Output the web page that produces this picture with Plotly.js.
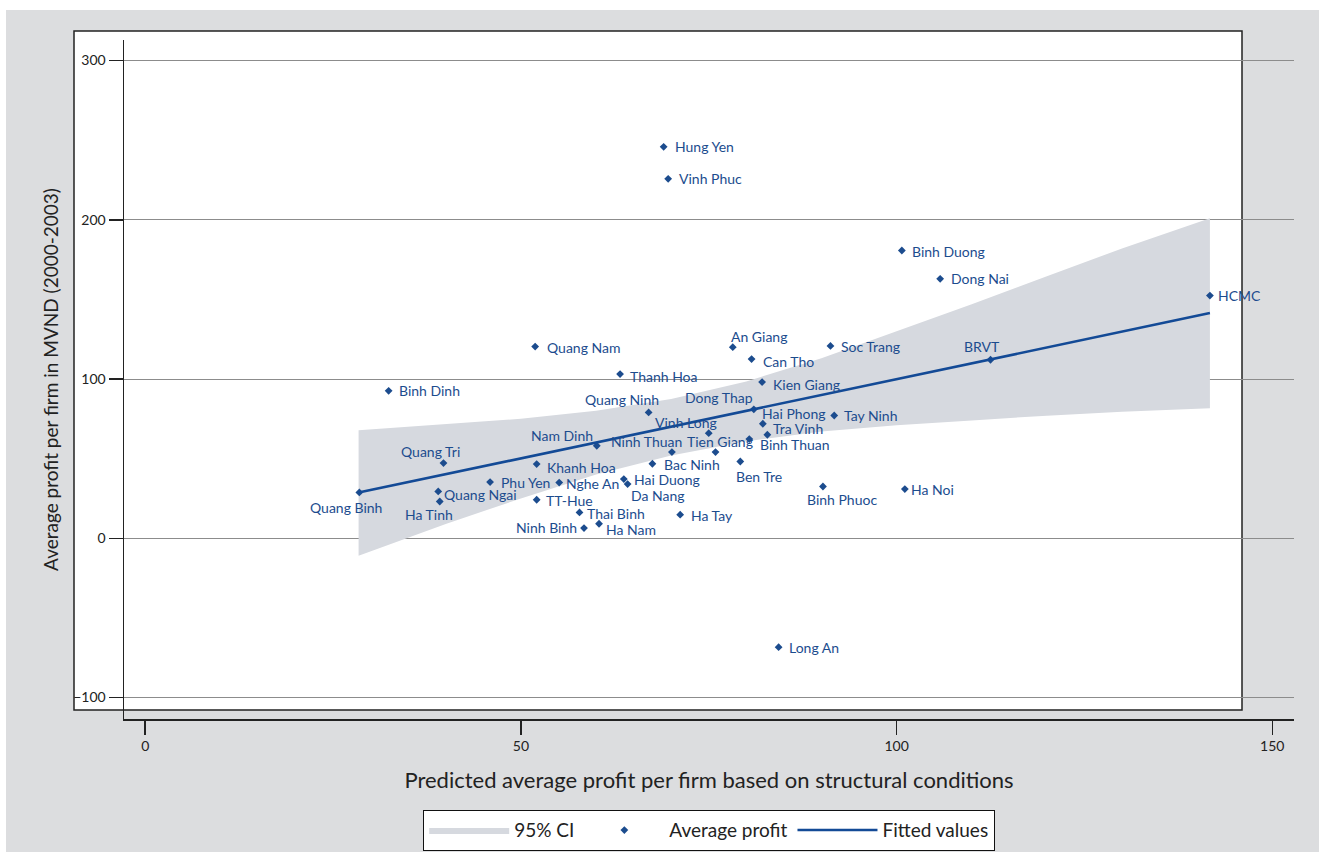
<!DOCTYPE html>
<html>
<head>
<meta charset="utf-8">
<script src="https://cdn.plot.ly/plotly-3.0.1.min.js"></script>
<style>html,body{margin:0;padding:0;background:#fff;}#chart{width:1319px;height:852px;}</style>
</head>
<body>
<div id="chart"></div>
<script>
// ---- data ----
const provinces = ["Hung Yen","Vinh Phuc","Binh Duong","Dong Nai","HCMC","BRVT","An Giang","Soc Trang","Can Tho","Quang Nam",
  "Thanh Hoa","Binh Dinh","Kien Giang","Quang Ninh","Dong Thap","Hai Phong","Tay Ninh","Tra Vinh","Binh Thuan","Tien Giang",
  "Vinh Long","Ninh Thuan","Nam Dinh","Quang Tri","Khanh Hoa","Bac Ninh","Ben Tre","Hai Duong","Da Nang","Phu Yen",
  "Nghe An","Quang Ngai","Ha Tinh","Quang Binh","TT-Hue","Thai Binh","Ninh Binh","Ha Nam","Ha Tay","Binh Phuoc",
  "Ha Noi","Long An"];
const predictedProfit = [69.0,69.6,100.7,105.8,141.7,112.5,78.2,91.2,80.7,51.9,
  63.2,32.4,82.1,67.0,81.0,82.2,91.7,82.8,80.4,75.9,
  75.0,70.1,60.1,39.7,52.1,67.5,79.2,63.7,64.2,45.9,
  55.1,39.0,39.2,28.5,52.1,57.8,58.4,60.4,71.2,90.2,
  101.1,84.3];
const averageProfit = [245.8,225.7,180.7,162.9,152.4,112.1,120.0,120.8,112.5,120.4,
  103.1,92.6,98.1,79.0,81.0,71.9,77.1,65.0,62.3,54.1,
  66.0,54.1,58.1,47.2,46.6,46.8,48.2,37.2,34.0,35.3,
  35.0,29.4,23.1,28.8,24.2,16.2,6.4,9.1,14.8,32.5,
  30.9,-68.4];
const ciX     = [28.4, 40, 50, 60, 70, 80, 90, 100, 110, 120, 130, 141.7];
const ciUpper = [67.8, 71.5, 75.0, 80.0, 87.5, 98.5, 113.0, 130.0, 147.0, 164.5, 182.0, 201.0];
const ciLower = [-11.0, 9.0, 25.0, 40.0, 52.0, 61.0, 67.0, 71.0, 74.0, 77.0, 79.5, 81.7];
const fitX = [28.4, 50, 70, 90, 112.5, 141.7];
const fitY = [28.7, 50.2, 70.0, 89.6, 112.1, 141.4];
const yTicks = [-100, 0, 100, 200, 300];
const xTicks = [0, 50, 100, 150];

// ---- label placement (style only): [xanchor, dx px, dy px (down)] ----
const labelPlace = [
  ["left",10,0],["left",10,0],["left",9.5,1],["left",9.5,0],["left",7.5,0],["center",-9,-13.5],["left",-3,-11],["left",10,1],["left",10,2],["left",11,1],
  ["left",8.5,2],["left",9.5,0],["left",9.7,2],["right",11.3,-12.7],["right",0,-11.5],["left",-2,-10.7],["left",9,0],["left",4.6,-6.7],["left",9.7,5.7],["center",4.7,-10.5],
  ["right",9.3,-10.6],["right",11,-10.6],["right",-2.7,-10],["center",-13.3,-11.8],["left",9.3,3.4],["left",10.6,0.5],["center",18.7,15],["left",8.7,0.6],["left",2.3,11.5],["left",10,0.4],
  ["left",5.7,0.6],["left",5,3.3],["center",-11,13.3],["center",-13,14.6],["left",8.3,0.7],["left",6.7,0.6],["right",-5.7,-1],["left",6,5.3],["left",10,1],["center",18.6,13.3],
  ["left",5,0.7],["left",9,0]
];

const FONT = "Lato, 'Open Sans', sans-serif";
const BLUE = "#1c4c8e";

const traces = [
  {
    type: "scatter", mode: "lines", name: "95% CI",
    x: ciX.concat(ciX.slice().reverse()),
    y: ciUpper.concat(ciLower.slice().reverse()),
    fill: "toself", fillcolor: "#d6d9df", line: {width: 0, color: "#d6d9df"},
    hoverinfo: "skip"
  },
  {
    type: "scatter", mode: "markers", name: "Average profit",
    x: predictedProfit, y: averageProfit, text: provinces,
    marker: {symbol: "diamond", size: 6, color: BLUE}
  },
  {
    type: "scatter", mode: "lines", name: "Fitted values",
    x: fitX, y: fitY,
    line: {color: "#134a96", width: 2.6}
  }
];

const annotations = provinces.map((p, i) => ({
  x: predictedProfit[i], y: averageProfit[i], xref: "x", yref: "y",
  text: p, showarrow: false,
  xanchor: labelPlace[i][0], yanchor: "middle",
  xshift: labelPlace[i][1], yshift: -labelPlace[i][2],
  font: {family: FONT, size: 14, color: BLUE},
  borderpad: 0
}));

const L = 124, R = 25, T = 40, B = 133;
const W = 1319 - L - R, H = 852 - T - B;
const px = v => (v - L) / W;
const py = v => (852 - B - v) / H;

const layout = {
  width: 1319, height: 852,
  margin: {l: L, r: R, t: T, b: B, pad: 0, autoexpand: false},
  paper_bgcolor: "#ffffff",
  plot_bgcolor: "rgba(0,0,0,0)",
  font: {family: FONT, color: "#222"},
  showlegend: true,
  legend: {
    orientation: "h", x: 0.5, xanchor: "center", y: py(810), yanchor: "top",
    bgcolor: "#ffffff", bordercolor: "#111", borderwidth: 1.2,
    font: {family: FONT, size: 19, color: "#222"},
    itemwidth: 80, tracegroupgap: 0
  },
  xaxis: {
    range: [-2.82, 152.89], tickmode: "array", tickvals: xTicks,
    showgrid: false, zeroline: false,
    showline: true, linecolor: "#222", linewidth: 1.5,
    ticks: "outside", ticklen: 14, tickwidth: 1.5, tickcolor: "#222",
    tickfont: {family: FONT, size: 14, color: "#222"},
    title: {text: "Predicted average profit per firm based on structural conditions",
            font: {family: FONT, size: 22, color: "#222"}, standoff: 19}
  },
  yaxis: {
    range: [-113.5, 312.9], tickmode: "array", tickvals: yTicks,
    showgrid: true, gridcolor: "#8c8c8c", gridwidth: 1,
    zeroline: false,
    showline: true, linecolor: "#222", linewidth: 1.5,
    ticks: "outside", ticklen: 14, tickwidth: 1.5, tickcolor: "#222",
    tickfont: {family: FONT, size: 14, color: "#222"},
    title: {text: "Average profit per firm in MVND (2000-2003)",
            font: {family: FONT, size: 19, color: "#222"}, standoff: 9}
  },
  shapes: [
    {type: "rect", xref: "paper", yref: "paper", layer: "below",
     x0: px(6), x1: px(1330), y0: py(860), y1: py(10),
     fillcolor: "#dcdddf", line: {width: 0}},
    {type: "rect", xref: "paper", yref: "paper", layer: "below",
     x0: px(74), x1: px(1242), y0: py(710), y1: py(31),
     fillcolor: "#ffffff", line: {color: "#222", width: 1.5}}
  ],
  annotations: annotations
};

Plotly.newPlot("chart", traces, layout, {displayModeBar: false, staticPlot: true});
</script>
</body>
</html>
